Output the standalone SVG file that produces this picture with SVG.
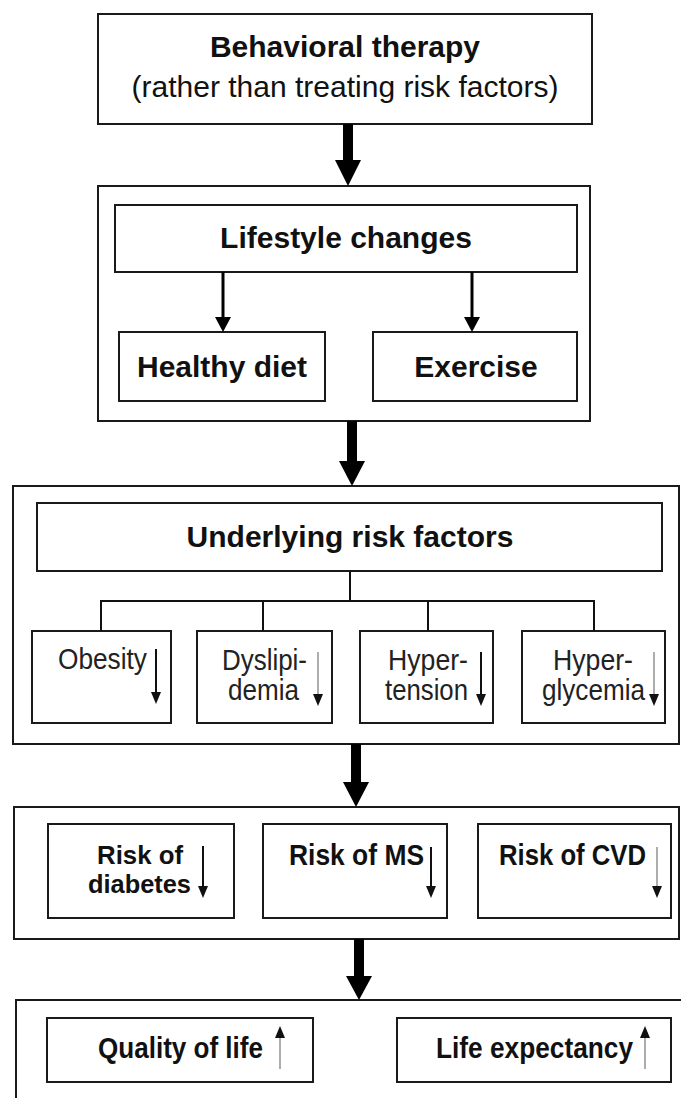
<svg xmlns="http://www.w3.org/2000/svg" width="681" height="1098" viewBox="0 0 681 1098">
<defs>
<style>
.box{fill:#fff;stroke:#1a1a1a;stroke-width:2}
.outer{fill:none;stroke:#1a1a1a;stroke-width:2}
.b{font-family:"Liberation Sans",Arial,sans-serif;font-weight:bold;font-size:30px;fill:#111}
.r{font-family:"Liberation Sans",Arial,sans-serif;font-size:30px;fill:#111}
.nr{font-family:"Liberation Sans",Arial,sans-serif;font-size:29px;fill:#222}
.nb{font-family:"Liberation Sans",Arial,sans-serif;font-weight:bold;font-size:29px;fill:#111}
.nb2{font-family:"Liberation Sans",Arial,sans-serif;font-weight:bold;font-size:26px;fill:#111}
.thick{fill:#000}
.ln{stroke:#111;stroke-width:2;fill:none}
.sk{stroke:#111;stroke-width:2}
.sg{stroke:#999;stroke-width:1.6}
.hd{fill:#111}
</style>
</defs>
<rect width="681" height="1098" fill="#fff"/>

<g id="behavioral-therapy">
<rect class="box" x="98" y="14" width="494" height="110"/>
<text class="b" x="345" y="57" text-anchor="middle">Behavioral therapy</text>
<text class="r" x="345" y="97" text-anchor="middle">(rather than treating risk factors)</text>
</g>

<g id="lifestyle-group">
<rect class="outer" x="98" y="186" width="492" height="235"/>
</g>
<g id="lifestyle-changes">
<rect class="box" x="115" y="205" width="462" height="67"/>
<text class="b" x="346" y="248" text-anchor="middle">Lifestyle changes</text>
</g>
<g id="healthy-diet">
<rect class="box" x="119" y="332" width="206" height="69"/>
<text class="b" x="222" y="377" text-anchor="middle">Healthy diet</text>
</g>
<g id="exercise">
<rect class="box" x="373" y="332" width="204" height="69"/>
<text class="b" x="476" y="377" text-anchor="middle">Exercise</text>
</g>

<g id="risk-factors-group">
<rect class="outer" x="13" y="486" width="666" height="258"/>
</g>
<g id="underlying-risk-factors">
<rect class="box" x="37" y="503" width="625" height="68"/>
<text class="b" x="350" y="547" text-anchor="middle">Underlying risk factors</text>
</g>
<g id="obesity">
<rect class="box" x="32" y="631" width="139" height="92"/>
<text class="nr" x="58" y="669" textLength="89" lengthAdjust="spacingAndGlyphs">Obesity</text>
<line class="sk" x1="156" y1="649" x2="156" y2="694"/>
<polygon class="hd" points="151,692 161,692 156,704"/>
</g>
<g id="dyslipidemia">
<rect class="box" x="197" y="631" width="135" height="92"/>
<text class="nr" x="222" y="670" textLength="85" lengthAdjust="spacingAndGlyphs">Dyslipi-</text>
<text class="nr" x="228" y="700" textLength="71" lengthAdjust="spacingAndGlyphs">demia</text>
<line class="sg" x1="318" y1="652" x2="318" y2="695"/>
<polygon class="hd" points="313,694 323,694 318,706"/>
</g>
<g id="hypertension">
<rect class="box" x="360" y="631" width="133" height="92"/>
<text class="nr" x="388" y="670" textLength="80" lengthAdjust="spacingAndGlyphs">Hyper-</text>
<text class="nr" x="385" y="700" textLength="83" lengthAdjust="spacingAndGlyphs">tension</text>
<line class="sk" x1="481" y1="652" x2="481" y2="695"/>
<polygon class="hd" points="476,694 486,694 481,706"/>
</g>
<g id="hyperglycemia">
<rect class="box" x="522" y="631" width="143" height="92"/>
<text class="nr" x="553" y="670" textLength="80" lengthAdjust="spacingAndGlyphs">Hyper-</text>
<text class="nr" x="542" y="700" textLength="103" lengthAdjust="spacingAndGlyphs">glycemia</text>
<line class="sg" x1="654" y1="652" x2="654" y2="695"/>
<polygon class="hd" points="649,694 659,694 654,706"/>
</g>

<g id="risks-group">
<rect class="outer" x="14" y="807" width="665" height="132"/>
</g>
<g id="risk-diabetes">
<rect class="box" x="48" y="824" width="186" height="94"/>
<text class="nb2" x="97" y="864" textLength="86" lengthAdjust="spacingAndGlyphs">Risk of</text>
<text class="nb2" x="88" y="893" textLength="103" lengthAdjust="spacingAndGlyphs">diabetes</text>
<line class="sk" x1="203" y1="846" x2="203" y2="888"/>
<polygon class="hd" points="198,886 208,886 203,898"/>
</g>
<g id="risk-ms">
<rect class="box" x="263" y="824" width="184" height="94"/>
<text class="nb" x="289" y="865" textLength="135" lengthAdjust="spacingAndGlyphs">Risk of MS</text>
<line class="sk" x1="431" y1="847" x2="431" y2="888"/>
<polygon class="hd" points="426,886 436,886 431,898"/>
</g>
<g id="risk-cvd">
<rect class="box" x="478" y="824" width="193" height="94"/>
<text class="nb" x="499" y="865" textLength="147" lengthAdjust="spacingAndGlyphs">Risk of CVD</text>
<line class="sg" x1="657" y1="847" x2="657" y2="888"/>
<polygon class="hd" points="652,886 662,886 657,898"/>
</g>

<g id="outcomes-group">
<rect class="outer" x="16" y="1000" width="680" height="120"/>
</g>
<g id="quality-of-life">
<rect class="box" x="47" y="1018" width="266" height="64"/>
<text class="nb" x="98" y="1058" textLength="165" lengthAdjust="spacingAndGlyphs">Quality of life</text>
<line class="sg" x1="280" y1="1069" x2="280" y2="1036"/>
<polygon class="hd" points="275,1038 285,1038 280,1026"/>
</g>
<g id="life-expectancy">
<rect class="box" x="397" y="1018" width="274" height="64"/>
<text class="nb" x="436" y="1058" textLength="197" lengthAdjust="spacingAndGlyphs">Life expectancy</text>
<line class="sg" x1="645" y1="1069" x2="645" y2="1036"/>
<polygon class="hd" points="640,1038 650,1038 645,1026"/>
</g>

<g id="connectors">
<rect class="thick" x="343" y="124" width="10" height="37"/>
<polygon class="thick" points="335,160 361,160 348,186"/>
<rect class="thick" x="347" y="421" width="10" height="41"/>
<polygon class="thick" points="339,461 365,461 352,486"/>
<rect class="thick" x="351" y="744" width="10" height="39"/>
<polygon class="thick" points="343,782 369,782 356,807"/>
<rect class="thick" x="354" y="939" width="10" height="38"/>
<polygon class="thick" points="346,976 372,976 359,1000"/>
<line x1="223" y1="272" x2="223" y2="318" stroke="#000" stroke-width="3"/>
<polygon class="thick" points="215,317 231,317 223,332"/>
<line x1="472" y1="272" x2="472" y2="318" stroke="#000" stroke-width="3"/>
<polygon class="thick" points="464,317 480,317 472,332"/>
<path class="ln" d="M350 571 V600 M101 601 H594 M101 600 V631 M263 600 V631 M428 600 V631 M594 600 V631"/>
</g>
</svg>
